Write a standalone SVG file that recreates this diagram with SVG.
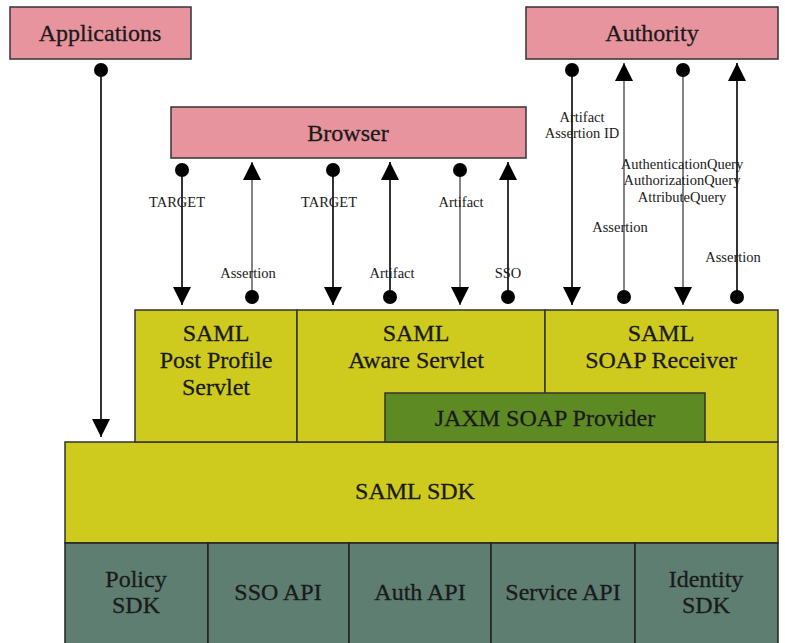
<svg xmlns="http://www.w3.org/2000/svg" width="785" height="643" viewBox="0 0 785 643">
  <style>
    .pink { fill: #e8949f; stroke: #333; stroke-width: 1.5; }
    .yel { fill: #cfcb1e; stroke: #333; stroke-width: 1.5; }
    .grn { fill: #5e8a24; stroke: #333; stroke-width: 1.5; }
    .teal { fill: #5e7e72; stroke: #222; stroke-width: 1.5; }
    .big { font-family: "Liberation Serif", "Times New Roman", serif; font-size: 24px; fill: #1a1a1a; stroke: #1a1a1a; stroke-width: 0.3; text-anchor: middle; }
    .lbl { font-family: "Liberation Serif", "Times New Roman", serif; font-size: 14.5px; fill: #1a1a1a; text-anchor: middle; }
    .wire { stroke: #000; stroke-width: 1.6; fill: none; marker-start: url(#dot); marker-end: url(#tip); }
    .wire.grey { stroke: #666; }
  </style>
  <defs>
    <marker id="tip" markerUnits="userSpaceOnUse" markerWidth="18" markerHeight="18" viewBox="0 0 16 16" refX="16" refY="8" orient="auto">
      <path d="M0,0 L16,8 L0,16 z" fill="#000"/>
    </marker>
    <marker id="dot" markerUnits="userSpaceOnUse" markerWidth="16" markerHeight="16" viewBox="0 0 16 16" refX="8" refY="8" orient="auto">
      <circle cx="8" cy="8" r="7" fill="#000"/>
    </marker>
  </defs>
  <rect width="785" height="643" fill="#fff"/>

  <g id="applications">
    <rect class="pink" x="10" y="7" width="181" height="52"/>
    <text class="big" x="100" y="41">Applications</text>
  </g>
  <g id="authority">
    <rect class="pink" x="526" y="7" width="252" height="52"/>
    <text class="big" x="652" y="41">Authority</text>
  </g>
  <g id="browser">
    <rect class="pink" x="171" y="107" width="355" height="51"/>
    <text class="big" x="348" y="141">Browser</text>
  </g>

  <g id="saml-sdk">
    <rect class="yel" x="65" y="442" width="713" height="101"/>
    <text class="big" x="415" y="499">SAML SDK</text>
  </g>
  <g id="post-profile-servlet">
    <rect class="yel" x="135" y="310" width="162" height="132"/>
    <text class="big" x="216" y="341">SAML</text>
    <text class="big" x="216" y="368">Post Profile</text>
    <text class="big" x="216" y="395">Servlet</text>
  </g>
  <g id="aware-servlet">
    <rect class="yel" x="297" y="310" width="248" height="132"/>
    <text class="big" x="416" y="341">SAML</text>
    <text class="big" x="416" y="368">Aware Servlet</text>
  </g>
  <g id="soap-receiver">
    <rect class="yel" x="545" y="310" width="233" height="132"/>
    <text class="big" x="661" y="341">SAML</text>
    <text class="big" x="661" y="368">SOAP Receiver</text>
  </g>
  <g id="jaxm-soap-provider">
    <rect class="grn" x="385" y="393" width="320" height="49"/>
    <text class="big" x="545" y="426">JAXM SOAP Provider</text>
  </g>

  <g id="policy-sdk">
    <rect class="teal" x="65" y="543" width="143" height="110"/>
    <text class="big" x="136" y="587">Policy</text>
    <text class="big" x="136" y="613">SDK</text>
  </g>
  <g id="sso-api">
    <rect class="teal" x="208" y="543" width="141" height="110"/>
    <text class="big" x="278" y="600">SSO API</text>
  </g>
  <g id="auth-api">
    <rect class="teal" x="349" y="543" width="142" height="110"/>
    <text class="big" x="420" y="600">Auth API</text>
  </g>
  <g id="service-api">
    <rect class="teal" x="491" y="543" width="144" height="110"/>
    <text class="big" x="563" y="600">Service API</text>
  </g>
  <g id="identity-sdk">
    <rect class="teal" x="635" y="543" width="143" height="110"/>
    <text class="big" x="706" y="587">Identity</text>
    <text class="big" x="706" y="613">SDK</text>
  </g>

  <g id="connectors">
    <line class="wire" x1="101" y1="70" x2="101" y2="437"/>

    <line class="wire" x1="182" y1="170" x2="182" y2="305"/>
    <line class="wire grey" x1="252" y1="297" x2="252" y2="162"/>
    <line class="wire" x1="333" y1="170" x2="333" y2="305"/>
    <line class="wire" x1="390" y1="297" x2="390" y2="162"/>
    <line class="wire grey" x1="460" y1="170" x2="460" y2="305"/>
    <line class="wire" x1="508" y1="297" x2="508" y2="162"/>

    <line class="wire" x1="572" y1="70" x2="572" y2="305"/>
    <line class="wire grey" x1="624" y1="297" x2="624" y2="63"/>
    <line class="wire grey" x1="683" y1="70" x2="683" y2="305"/>
    <line class="wire" x1="737" y1="297" x2="737" y2="63"/>

    <text class="lbl" x="177" y="207">TARGET</text>
    <text class="lbl" x="248" y="278">Assertion</text>
    <text class="lbl" x="329" y="207">TARGET</text>
    <text class="lbl" x="392" y="278">Artifact</text>
    <text class="lbl" x="461" y="207">Artifact</text>
    <text class="lbl" x="508" y="278">SSO</text>

    <text class="lbl" x="582" y="122">Artifact</text>
    <text class="lbl" x="582" y="138">Assertion ID</text>
    <text class="lbl" x="682" y="169">AuthenticationQuery</text>
    <text class="lbl" x="682" y="185">AuthorizationQuery</text>
    <text class="lbl" x="682" y="202">AttributeQuery</text>
    <text class="lbl" x="620" y="232">Assertion</text>
    <text class="lbl" x="733" y="262">Assertion</text>
  </g>
</svg>
